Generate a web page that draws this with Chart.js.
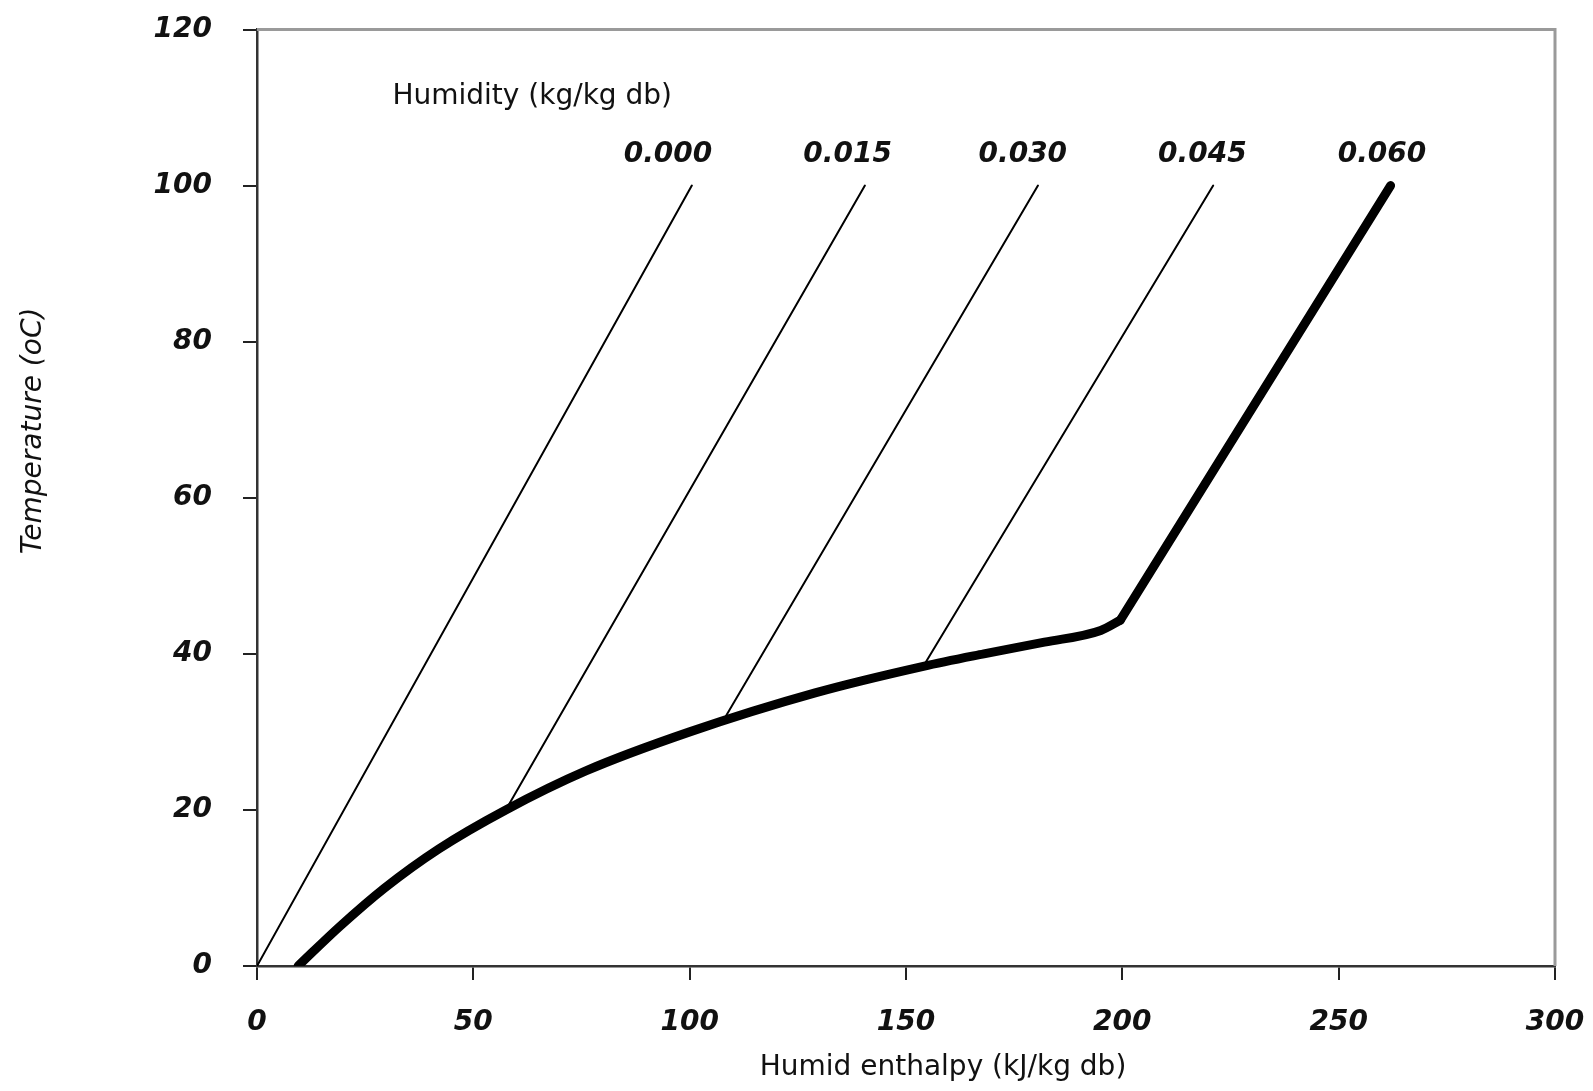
<!DOCTYPE html>
<html lang="en">
<head>
    <meta charset="UTF-8">
    <title>Humid enthalpy vs temperature</title>
    <script src="https://cdn.jsdelivr.net/npm/chart.js"></script>
    <style>
        html, body { margin: 0; padding: 0; background: #fff; }
        #chart { display: block; width: 1593px !important; height: 1091px !important; }
    </style>
</head>
<body>
    <canvas id="chart" width="1593" height="1091"></canvas>

    <script>
        // saturation curve (thick)
        const satEnthalpy = [9.5, 19, 29.5, 42, 57.5, 76, 100, 129, 154, 168, 182, 195, 199.5];
        const satTemp     = [0,   5,  10,   15, 20,   25, 30,  35,  38.4, 40, 41.5, 43, 44.3];

        // 0.060 line (thick), from the saturation curve up to 100 oC
        const line060H = [199.5, 262]; const line060T = [44.3, 100];

        // constant humidity lines (thin), from the saturation curve up to 100 oC
        const line000H = [0, 100.5];   const line000T = [0, 100];
        const line015H = [57.5, 140.5]; const line015T = [20, 100];
        const line030H = [107.5, 180.5]; const line030T = [31.2, 100];
        const line045H = [154, 221];   const line045T = [38.4, 100];

        // humidity value labels and their anchor in data units
        const humidityLabels = ['0.000', '0.015', '0.030', '0.045', '0.060'];
        const labelH = [95, 136.5, 177, 218.5, 260];
        const labelT = 103.9;

        const xTicks = [0, 50, 100, 150, 200, 250, 300];
        const yTicks = [0, 20, 40, 60, 80, 100, 120];

        const hand = "'Comic Sans MS', 'DejaVu Sans', sans-serif";

        const toPoints = (xs, ys) => xs.map((x, i) => ({ x: x, y: ys[i] }));

        const line = (xs, ys, w) => ({
            data: toPoints(xs, ys),
            borderColor: '#000',
            borderWidth: w,
            borderCapStyle: 'round',
            borderJoinStyle: 'round',
            pointRadius: 0,
            showLine: true,
            tension: 0
        });

        const textPlugin = {
            id: 'texts',
            beforeDatasetsDraw(chart) {
                // grey top and right frame
                const a = chart.chartArea, ctx = chart.ctx;
                ctx.save();
                ctx.strokeStyle = '#9a9a9a';
                ctx.lineWidth = 3;
                ctx.beginPath();
                ctx.moveTo(a.left, a.top);
                ctx.lineTo(a.right, a.top);
                ctx.lineTo(a.right, a.bottom);
                ctx.stroke();
                ctx.restore();
            },
            afterDraw(chart) {
                const ctx = chart.ctx, xs = chart.scales.x, ys = chart.scales.y;
                ctx.save();
                ctx.fillStyle = '#111';
                ctx.textBaseline = 'middle';

                ctx.font = '28px ' + hand;
                ctx.textAlign = 'left';
                ctx.fillText('Humidity (kg/kg db)', xs.getPixelForValue(31.3), ys.getPixelForValue(111.4));

                ctx.font = 'italic bold 28px ' + hand;
                ctx.textAlign = 'center';
                humidityLabels.forEach((t, i) => {
                    ctx.fillText(t, xs.getPixelForValue(labelH[i]), ys.getPixelForValue(labelT));
                });

                ctx.font = '28px ' + hand;
                ctx.fillText('Humid enthalpy (kJ/kg db)', 943, 1068);

                ctx.translate(34, 431);
                ctx.rotate(-Math.PI / 2);
                ctx.font = 'italic 28px ' + hand;
                ctx.fillText('Temperature (oC)', 0, 0);
                ctx.restore();
            }
        };

        const satCurve = line(satEnthalpy, satTemp, 9);
        satCurve.cubicInterpolationMode = 'monotone';

        new Chart(document.getElementById('chart'), {
            type: 'scatter',
            data: {
                datasets: [
                    line(line000H, line000T, 2),
                    line(line015H, line015T, 2),
                    line(line030H, line030T, 2),
                    line(line045H, line045T, 2),
                    satCurve,
                    line(line060H, line060T, 9)
                ]
            },
            options: {
                responsive: false,
                animation: false,
                layout: { autoPadding: false, padding: { top: 29.5, right: 38, left: 0, bottom: 0 } },
                plugins: {
                    legend: { display: false },
                    tooltip: { enabled: false }
                },
                scales: {
                    x: {
                        type: 'linear',
                        min: 0,
                        max: 300,
                        afterFit: s => { s.height = 125; s.paddingLeft = 0; s.paddingRight = 0; },
                        afterBuildTicks: s => { s.ticks = xTicks.map(v => ({ value: v })); },
                        grid: { drawOnChartArea: false, drawTicks: true, tickLength: 14, color: '#222', lineWidth: 2 },
                        border: { color: '#333', width: 2.5 },
                        ticks: {
                            padding: 26,
                            color: '#111',
                            font: { family: hand, size: 28, style: 'italic', weight: 'bold' }
                        }
                    },
                    y: {
                        type: 'linear',
                        min: 0,
                        max: 120,
                        afterFit: s => { s.width = 257; s.paddingTop = 0; s.paddingBottom = 0; },
                        afterBuildTicks: s => { s.ticks = yTicks.map(v => ({ value: v })); },
                        grid: { drawOnChartArea: false, drawTicks: true, tickLength: 14, color: '#222', lineWidth: 2 },
                        border: { color: '#333', width: 2.5 },
                        ticks: {
                            padding: 31,
                            color: '#111',
                            font: { family: hand, size: 28, style: 'italic', weight: 'bold' }
                        }
                    }
                }
            },
            plugins: [textPlugin]
        });
    </script>
</body>
</html>
